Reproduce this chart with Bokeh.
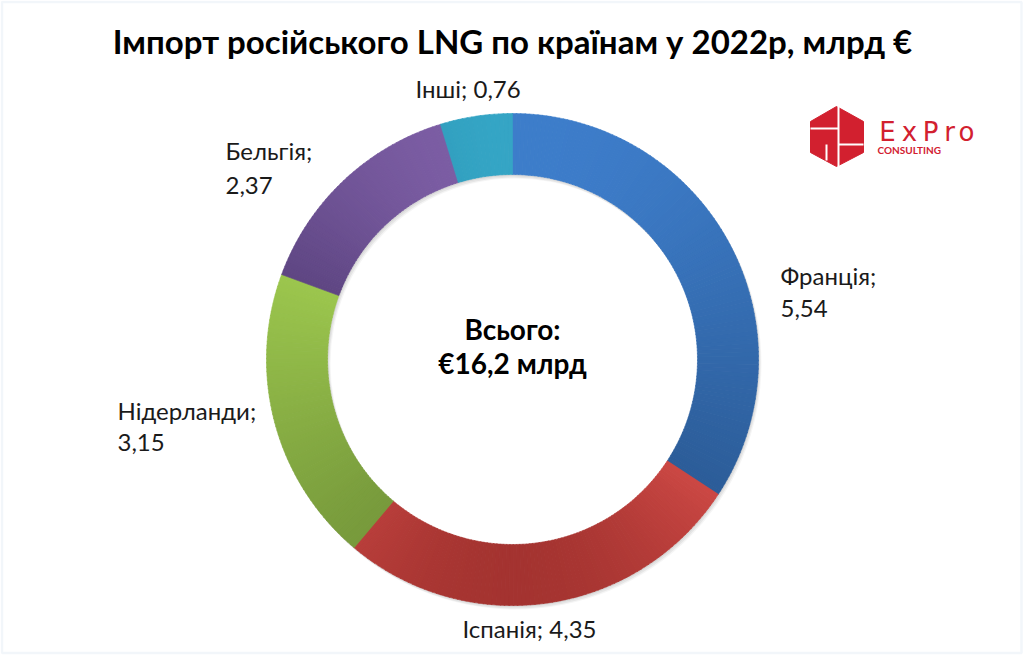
import numpy as np
from bokeh.plotting import figure
from bokeh.models import Range1d, BoxAnnotation, ColumnDataSource
from bokeh.core.properties import value
from bokeh.embed import file_html
from bokeh.resources import INLINE

# ---------------- data ----------------
title_text = "Імпорт російського LNG по країнам у 2022р, млрд €"
countries = ["Франція", "Іспанія", "Нідерланди", "Бельгія", "Інші"]
values = [5.54, 4.35, 3.15, 2.37, 0.76]
center_lines = ["Всього:", "€16,2 млрд"]
logo_letters = ["E", "x", "P", "r", "o"]

# ---------------- styles / layout ----------------
top_colors = ["#3F80CF", "#D24B47", "#9DC84E", "#8262AB", "#3DB6D8"]
bottom_colors = ["#2B5B96", "#982D2A", "#74963A", "#5C4480", "#2A90AE"]
label_two_lines = [True, False, True, True, False]
label_pos = [(780, 275, 308), (462, 628, None), (117, 410, 442), (225, 150, 185), (415, 88, None)]
logo_letter_x = [887, 909, 930, 949, 966]

W, H = 1024, 655
CX, CY = 512, 359
R_OUT, R_IN = 246, 185
FONT = "Lato"


def Y(py):
    return H - py


def fmt(v):
    return f"{v:.2f}".replace(".", ",")


def hex2rgb(h):
    h = h.lstrip("#")
    return np.array([int(h[i:i + 2], 16) for i in (0, 2, 4)], dtype=float)


def rgb2hex(c):
    c = np.clip(np.round(c), 0, 255).astype(int)
    return "#%02x%02x%02x" % tuple(c)


p = figure(width=W, height=H, x_range=Range1d(0, W), y_range=Range1d(0, H),
           output_backend="svg", toolbar_location=None, min_border=0)
p.axis.visible = False
p.grid.visible = False
p.outline_line_color = None
p.background_fill_color = "white"
p.border_fill_color = "white"

# chart border
p.add_layout(BoxAnnotation(left=1.5, right=1021, bottom=2.5, top=653.5, fill_alpha=0,
                           line_color="#D5E1F0", line_width=2.5))

# soft shadow of the ring
for dx, dy, a in [(1, 1.5, 0.06), (2, 3, 0.06), (3, 4, 0.04)]:
    p.annulus(x=CX + dx, y=Y(CY + dy), inner_radius=R_IN, outer_radius=R_OUT,
              fill_color="black", fill_alpha=a, line_color=None)

# donut with vertical gradient per slice (sub-wedges)
total = sum(values)
cum = np.concatenate([[0], np.cumsum(values)])
xs, ys, sa, ea, cols = [], [], [], [], []
for i, v in enumerate(values):
    a0 = np.radians(90 - cum[i] / total * 360)      # start (upper) angle
    a1 = np.radians(90 - cum[i + 1] / total * 360)  # end angle (clockwise)
    samp = np.linspace(a1, a0, 200)
    pys = np.concatenate([CY - R_OUT * np.sin(samp), CY - R_IN * np.sin(samp)])
    ymin, ymax = pys.min(), pys.max()
    n = max(int(np.degrees(a0 - a1) / 1.0), 2)
    edges = np.linspace(a1, a0, n + 1)
    ct, cb = hex2rgb(top_colors[i]), hex2rgb(bottom_colors[i])
    for k in range(n):
        s, e = edges[k], edges[k + 1]
        m = 0.5 * (s + e)
        py = CY - 0.5 * (R_OUT + R_IN) * np.sin(m)
        t = (py - ymin) / (ymax - ymin) if ymax > ymin else 0.5
        xs.append(CX)
        ys.append(Y(CY))
        sa.append(s)
        ea.append(e + 0.002)
        cols.append(rgb2hex(ct + (cb - ct) * t))

src = ColumnDataSource(dict(x=xs, y=ys, s=sa, e=ea, c=cols))
p.annular_wedge(x="x", y="y", inner_radius=R_IN, outer_radius=R_OUT,
                start_angle="s", end_angle="e", fill_color="c", line_color="c",
                line_width=0.6, source=src)

# title
p.text(x=[W / 2], y=[Y(40)], text=[title_text], text_align="center", text_baseline="middle",
       text_font=value(FONT), text_font_size="33px", text_font_style="bold", text_color="black")

# center text
p.text(x=[CX, CX], y=[Y(328), Y(362)], text=center_lines, text_align="center",
       text_baseline="middle", text_font=value(FONT), text_font_size="28px",
       text_font_style="bold", text_color="black")

# slice labels
lx, ly, lt = [], [], []
for i, (c, v) in enumerate(zip(countries, values)):
    x0, y1, y2 = label_pos[i]
    if label_two_lines[i]:
        lx += [x0, x0]
        ly += [Y(y1), Y(y2)]
        lt += [c + ";", fmt(v)]
    else:
        lx.append(x0)
        ly.append(Y(y1))
        lt.append(f"{c}; {fmt(v)}")
p.text(x=lx, y=ly, text=lt, text_align="left", text_baseline="middle",
       text_font=value(FONT), text_font_size="24px", text_color="#1a1a1a")

# logo
hx = [836, 863, 863, 836, 810, 810]
hy = [106, 121, 152, 166, 152, 121]
p.patch(x=hx, y=[Y(v) for v in hy], fill_color="#D2202F", line_color="#D2202F", line_width=1)
p.multi_line(xs=[[838, 838], [810, 838], [838, 863], [826, 826]],
             ys=[[Y(104), Y(168)], [Y(128), Y(128)], [Y(144), Y(144)], [Y(144), Y(160)]],
             line_color="white", line_width=2)
p.text(x=logo_letter_x, y=[Y(131)] * len(logo_letters), text=logo_letters, text_align="center",
       text_baseline="middle", text_font=value("DejaVu Sans"), text_font_size="26px",
       text_color="#D2202F")
p.text(x=[877], y=[Y(149)], text=["CONSULTING"], text_align="left", text_baseline="middle",
       text_font=value(FONT), text_font_size="10px", text_font_style="bold", text_color="#D2202F")

open("out.html", "w").write(file_html(p, INLINE))
